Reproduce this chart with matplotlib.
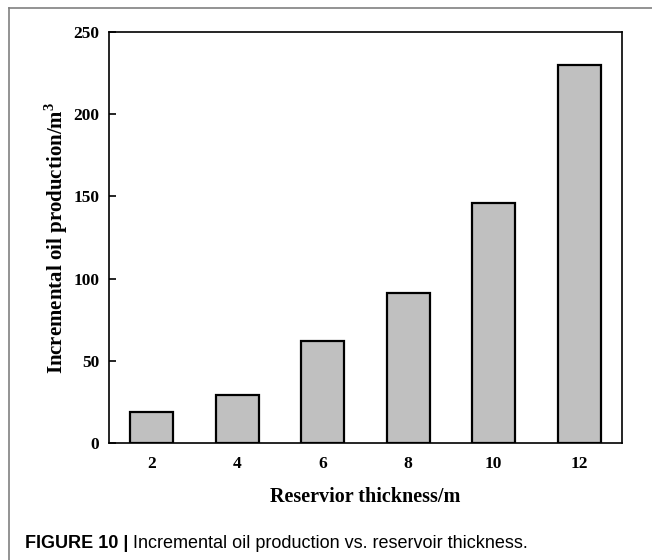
import matplotlib.pyplot as plt
from matplotlib.lines import Line2D

thickness = [2, 4, 6, 8, 10, 12]
oil = [19, 29, 62, 91, 146, 230]
yticks = [0, 50, 100, 150, 200, 250]

plt.rcParams['font.family'] = 'Liberation Serif'

fig = plt.figure(figsize=(6.52, 5.6), dpi=100)
ax = fig.add_axes([109 / 652, 1 - 443 / 560, (622 - 109) / 652, (443 - 32) / 560])

ax.bar(thickness, oil, width=1.0, color='#c0c0c0', edgecolor='black', linewidth=1.6)

ax.set_xlim(1, 13)
ax.set_ylim(0, 250)
ax.set_xticks(thickness)
ax.set_yticks(yticks)
ax.tick_params(axis='x', length=0, pad=9, labelsize=12.5)
ax.tick_params(axis='y', direction='in', length=5, width=1.2, pad=7, labelsize=12.5)
for lab in ax.get_xticklabels() + ax.get_yticklabels():
    lab.set_fontweight('bold')
for s in ax.spines.values():
    s.set_linewidth(1.2)

ax.set_xlabel('Reservior thickness/m', fontsize=14.5, fontweight='bold', labelpad=11)
ax.set_ylabel('Incremental oil production/m$^\\mathregular{3}$', fontsize=15, fontweight='bold', labelpad=2)

# outer frame of the figure panel
fig.add_artist(Line2D([9 / 652, 1], [1 - 8 / 560, 1 - 8 / 560], transform=fig.transFigure, color='#808080', lw=1.2))
fig.add_artist(Line2D([9 / 652, 9 / 652], [0, 1 - 8 / 560], transform=fig.transFigure, color='#808080', lw=1.2))

# caption
cap_y = 1 - 543 / 560
t = fig.text(25 / 652, cap_y, 'FIGURE 10 | ', family='Liberation Sans', fontweight='bold', fontsize=13, va='center')
fig.canvas.draw()
bb = t.get_window_extent()
fig.text(bb.x1 / 652, cap_y, 'Incremental oil production vs. reservoir thickness.', family='Liberation Sans',
         fontsize=13, va='center')

fig.savefig('out.png', dpi=100)
